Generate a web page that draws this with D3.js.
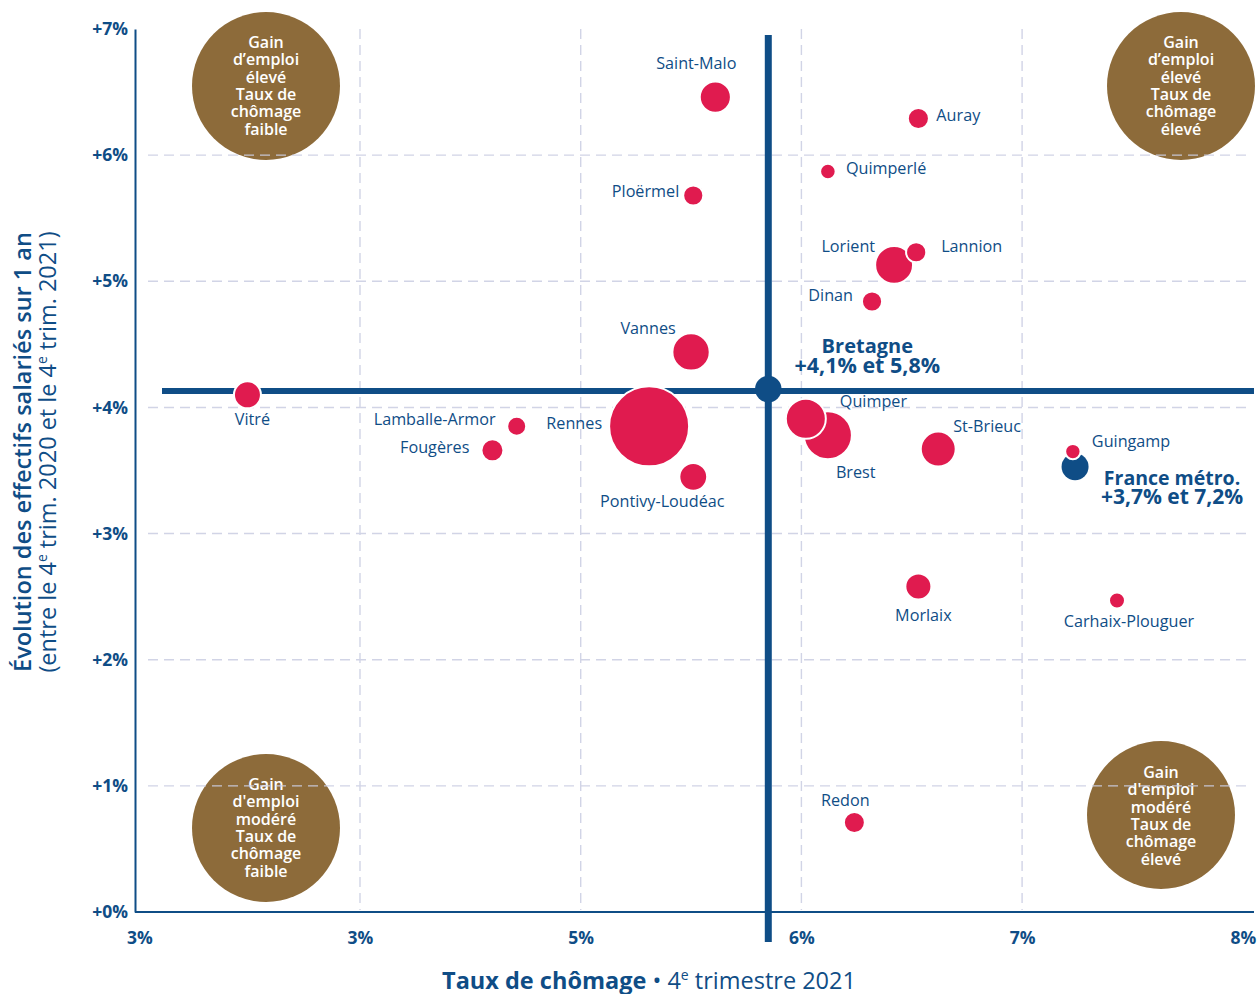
<!DOCTYPE html>
<html><head><meta charset="utf-8">
<script src="https://cdn.jsdelivr.net/npm/d3@7"></script>
<style>
body{margin:0;background:#fff}
svg{display:block;font-family:"Open Sans","Noto Sans",sans-serif}
</style>
</head><body>
<svg id="chart" width="1259" height="994"></svg>
<script>
// ---------- DATA ----------
const zones      = ["Saint-Malo","Ploërmel","Quimperlé","Auray","Lorient","Lannion","Dinan","Vannes","Rennes","Pontivy-Loudéac","Lamballe-Armor","Fougères","Vitré","Quimper","Brest","St-Brieuc","Guingamp","Morlaix","Carhaix-Plouguer","Redon"];
const chomage    = [5.61, 5.51, 6.12, 6.53, 6.42, 6.52, 6.32, 5.50, 5.31, 5.51, 4.71, 4.60, 3.49, 6.02, 6.12, 6.62, 7.23, 6.53, 7.43, 6.24];
const evolution  = [6.46, 5.68, 5.87, 6.29, 5.13, 5.23, 4.84, 4.44, 3.85, 3.45, 3.85, 3.66, 4.10, 3.91, 3.78, 3.67, 3.65, 2.58, 2.47, 0.71];
const effectifs  = [50, 21, 12.5, 23, 74, 21, 21, 72, 330, 40, 18.6, 25, 37.6, 82.5, 119, 63, 12.2, 35, 13.2, 22.7];

const refNames     = ["Bretagne", "France métro."];
const refChomage   = [5.85, 7.24];
const refEvolution = [4.13, 3.53];
const refLabels    = ["+4,1% et 5,8%", "+3,7% et 7,2%"];

const xTickValues = [3, 4, 5, 6, 7, 8];
const xTickLabels = ["3%", "3%", "5%", "6%", "7%", "8%"];
const yTickValues = [0, 1, 2, 3, 4, 5, 6, 7];
const yTickLabels = ["+0%", "+1%", "+2%", "+3%", "+4%", "+5%", "+6%", "+7%"];

const quadrantTexts = [
  ["Gain", "d’emploi", "élevé", "Taux de", "chômage", "faible"],
  ["Gain", "d’emploi", "élevé", "Taux de", "chômage", "élevé"],
  ["Gain", "d'emploi", "modéré", "Taux de", "chômage", "faible"],
  ["Gain", "d'emploi", "modéré", "Taux de", "chômage", "élevé"]
];

// ---------- STYLE ----------
const BLUE = "#0f4d86", RED = "#e01b4f", BROWN = "#8d6b3a", GRID = "#cdd0e4";
const svg = d3.select("#chart");

const x = d3.scaleLinear().domain([3, 8]).range([139.3, 1242.8]);
const y = d3.scaleLinear().domain([0, 7]).range([912, 29]);
const r = d3.scaleSqrt().domain([0, 330]).range([0, 40]);

// quadrant circles (layout)
const quadPos = [[266, 86, 74, 48], [1181, 86, 74, 48], [266, 828, 74, 790], [1161, 815, 74, 778]];
quadPos.forEach((p, i) => {
  svg.append("circle").attr("cx", p[0]).attr("cy", p[1]).attr("r", p[2]).attr("fill", BROWN);
  const t = svg.append("text").attr("text-anchor", "middle").attr("fill", "#fff")
    .attr("font-size", 16).attr("font-weight", 600);
  quadrantTexts[i].forEach((s, j) => {
    t.append("tspan").attr("x", p[0]).attr("y", p[3] + j * 17.3).text(s);
  });
});

// grid
const grid = svg.append("g").attr("stroke", GRID).attr("stroke-width", 1.4).attr("stroke-dasharray", "10,6").attr("opacity", 0.9);
yTickValues.filter(v => v > 0 && v < 7).forEach(v => {
  grid.append("line").attr("x1", 148).attr("x2", 1248).attr("y1", y(v)).attr("y2", y(v));
});
xTickValues.filter(v => v > 3 && v < 8).forEach(v => {
  grid.append("line").attr("x1", x(v)).attr("x2", x(v)).attr("y1", y(7)).attr("y2", y(0) - 2);
});

// axes
const yAxis = d3.axisLeft(y).tickValues(yTickValues).tickFormat((d, i) => yTickLabels[i]).tickSize(0).tickPadding(7);
const gy = svg.append("g").attr("transform", "translate(135,0)").call(yAxis);
gy.select(".domain").attr("stroke", BLUE).attr("stroke-width", 2);
gy.selectAll("text").attr("fill", BLUE).attr("font-size", 17.5).attr("font-weight", 700)
  .attr("font-family", '"Open Sans",sans-serif');

const xAxis = d3.axisBottom(x).tickValues(xTickValues).tickFormat((d, i) => xTickLabels[i]).tickSize(0).tickPadding(20);
const gx = svg.append("g").attr("transform", "translate(0,912)").call(xAxis);
gx.select(".domain").remove();
svg.append("line").attr("x1", 135).attr("x2", 1254).attr("y1", 912).attr("y2", 912).attr("stroke", BLUE).attr("stroke-width", 2);
gx.selectAll("text").attr("fill", BLUE).attr("font-size", 17.5).attr("font-weight", 700)
  .attr("font-family", '"Open Sans",sans-serif');

// axis titles
const xt = svg.append("text").attr("x", 649).attr("y", 989).attr("text-anchor", "middle").attr("fill", BLUE).attr("font-size", 23.5);
xt.append("tspan").attr("font-weight", 700).text("Taux de chômage");
xt.append("tspan").text(" • 4");
xt.append("tspan").attr("font-size", 14).attr("dy", -9).text("e");
xt.append("tspan").attr("dy", 9).text(" trimestre 2021");

const yt = svg.append("g").attr("transform", "translate(0,452) rotate(-90)");
yt.append("text").attr("x", 0).attr("y", 31).attr("text-anchor", "middle").attr("fill", BLUE)
  .attr("font-size", 23.5).attr("font-weight", 600).text("Évolution des effectifs salariés sur 1 an");
const yt2 = yt.append("text").attr("x", 0).attr("y", 56).attr("text-anchor", "middle").attr("fill", BLUE).attr("font-size", 23.5);
yt2.append("tspan").text("(entre le 4");
yt2.append("tspan").attr("font-size", 14).attr("dy", -9).text("e");
yt2.append("tspan").attr("dy", 9).text(" trim. 2020 et le 4");
yt2.append("tspan").attr("font-size", 14).attr("dy", -9).text("e");
yt2.append("tspan").attr("dy", 9).text(" trim. 2021)");

// Bretagne cross lines
const bx = x(refChomage[0]), by = y(refEvolution[0]);
svg.append("line").attr("x1", bx).attr("x2", bx).attr("y1", 35).attr("y2", 942).attr("stroke", BLUE).attr("stroke-width", 7);
svg.append("line").attr("x1", 162).attr("x2", 1254).attr("y1", by).attr("y2", by).attr("stroke", BLUE).attr("stroke-width", 6);

// bubbles
const pts = zones.map((z, i) => ({ z, cx: chomage[i], ev: evolution[i], n: effectifs[i] }));
const order = pts.slice().sort((a, b) => b.n - a.n);

// France métro dot (under Guingamp)
svg.append("circle").attr("cx", x(refChomage[1])).attr("cy", y(refEvolution[1])).attr("r", 13.5).attr("fill", BLUE);

svg.append("g").selectAll("circle").data(order).join("circle")
  .attr("cx", d => x(d.cx)).attr("cy", d => y(d.ev)).attr("r", d => r(d.n))
  .attr("fill", RED).attr("stroke", "#fff").attr("stroke-width", 2);

// Bretagne dot
svg.append("circle").attr("cx", bx).attr("cy", by - 2).attr("r", 13.3).attr("fill", BLUE);

// labels (layout offsets)
const off = {
  "Saint-Malo": [-19, -28, "middle"], "Ploërmel": [-14, 1, "end"], "Quimperlé": [18, 2, "start"],
  "Auray": [18, 2, "start"], "Lorient": [-19, -13, "end"], "Lannion": [25, 0, "start"],
  "Dinan": [-19, 0, "end"], "Vannes": [-43, -18, "middle"], "Rennes": [-47, 3, "end"],
  "Pontivy-Loudéac": [-31, 30, "middle"], "Lamballe-Armor": [-21, -1, "end"], "Fougères": [-23, 3, "end"],
  "Vitré": [5, 30, "middle"], "Quimper": [34, -12, "start"], "Brest": [8, 43, "start"],
  "St-Brieuc": [15, -17, "start"], "Guingamp": [19, -5, "start"], "Morlaix": [5, 34, "middle"],
  "Carhaix-Plouguer": [12, 27, "middle"], "Redon": [-9, -16, "middle"]
};
svg.append("g").selectAll("text").data(pts).join("text")
  .attr("x", d => x(d.cx) + off[d.z][0]).attr("y", d => y(d.ev) + off[d.z][1])
  .attr("text-anchor", d => off[d.z][2]).attr("fill", BLUE).attr("font-size", 16.2).text(d => d.z);

// reference labels
const refOff = [[99, -38, -18], [97, 18, 37]];
const refSizes = [[20, 21.5], [19.5, 21]];
refNames.forEach((n, i) => {
  const cx = x(refChomage[i]) + refOff[i][0], cy = y(refEvolution[i]);
  svg.append("text").attr("x", cx).attr("y", cy + refOff[i][1]).attr("text-anchor", "middle")
    .attr("fill", BLUE).attr("font-size", refSizes[i][0]).attr("font-weight", 700).text(n);
  svg.append("text").attr("x", cx).attr("y", cy + refOff[i][2]).attr("text-anchor", "middle")
    .attr("fill", BLUE).attr("font-size", refSizes[i][1]).attr("font-weight", 700).text(refLabels[i]);
});
</script>
</body></html>
